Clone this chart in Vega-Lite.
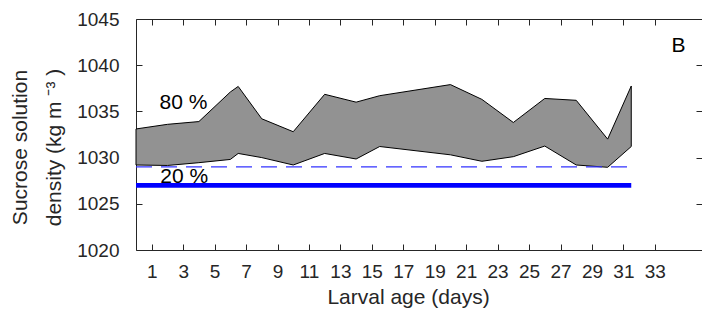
{
  "$schema": "https://vega.github.io/schema/vega-lite/v6.json",
  "width": 566,
  "height": 231,
  "autosize": "none",
  "padding": {"left": 136, "top": 19, "right": 0, "bottom": 61},
  "background": "white",
  "config": {
    "view": {"stroke": null},
    "font": "Liberation Sans",
    "axis": {
      "grid": false,
      "domainColor": "#262626",
      "tickColor": "#262626",
      "labelColor": "#262626",
      "titleColor": "#262626",
      "labelFont": "Liberation Sans",
      "titleFont": "Liberation Sans",
      "labelFontSize": 19,
      "titleFontSize": 21,
      "titleFontWeight": "normal",
      "labelFlush": false,
      "labelOverlap": false,
      "tickSize": -6,
      "domainWidth": 1,
      "tickWidth": 1
    }
  },
  "datasets": {
    "band": [
      {"day": 0, "upper": 1033.1, "lower": 1029.2},
      {"day": 2, "upper": 1033.6, "lower": 1029.15},
      {"day": 4, "upper": 1033.9, "lower": 1029.45},
      {"day": 6, "upper": 1037.1, "lower": 1029.8},
      {"day": 6.5, "upper": 1037.7, "lower": 1030.45},
      {"day": 8, "upper": 1034.2, "lower": 1030.0},
      {"day": 10, "upper": 1032.8, "lower": 1029.2},
      {"day": 12, "upper": 1036.85, "lower": 1030.45},
      {"day": 14, "upper": 1036.0, "lower": 1029.85},
      {"day": 15.5, "upper": 1036.7, "lower": 1031.2},
      {"day": 20, "upper": 1037.9, "lower": 1030.3},
      {"day": 22, "upper": 1036.3, "lower": 1029.6},
      {"day": 24, "upper": 1033.8, "lower": 1030.1},
      {"day": 26, "upper": 1036.4, "lower": 1031.25},
      {"day": 28, "upper": 1036.2, "lower": 1029.2},
      {"day": 30, "upper": 1032.0, "lower": 1028.95},
      {"day": 31.5, "upper": 1037.75, "lower": 1031.2}
    ],
    "dashed": [{"start": 0, "end": 31.5, "density": 1029.0}],
    "solid": [{"start": 0, "end": 31.5, "density": 1027.0}],
    "labels": [
      {"day": 1.5, "density": 1035.9, "text": "80 %"},
      {"day": 1.55, "density": 1027.95, "text": "20 %"},
      {"day": 34.06, "density": 1042.1, "text": "B"}
    ]
  },
  "layer": [
    {
      "data": {"name": "band"},
      "mark": {"type": "area", "fill": "#929292", "stroke": "black", "strokeWidth": 1, "fillOpacity": 1},
      "encoding": {
        "x": {
          "field": "day", "type": "quantitative",
          "scale": {"domain": [0, 36], "nice": false, "zero": false},
          "axis": {
            "orient": "bottom",
            "values": [1, 3, 5, 7, 9, 11, 13, 15, 17, 19, 21, 23, 25, 27, 29, 31, 33],
            "format": "d",
            "title": "Larval age (days)",
            "labelPadding": 18,
            "titleX": 272,
            "titleY": 53,
            "titleAnchor": null,
            "titleAlign": "center",
            "titleBaseline": "alphabetic"
          }
        },
        "y": {
          "field": "upper", "type": "quantitative",
          "scale": {"domain": [1020, 1045], "nice": false, "zero": false},
          "axis": {
            "orient": "left",
            "values": [1020, 1025, 1030, 1035, 1040, 1045],
            "format": "d",
            "title": ["Sucrose solution", "density (kg m  \u207b\u00b3 )"],
            "labelPadding": 23,
            "titleX": -110,
            "titleY": 128,
            "titleAngle": -90,
            "titleAlign": "center",
            "titleBaseline": "alphabetic",
            "titleLineHeight": 34
          }
        },
        "y2": {"field": "lower"}
      }
    },
    {
      "data": {"name": "dashed"},
      "mark": {"type": "rule", "color": "#3333ff", "strokeWidth": 1.3, "strokeDash": [16, 9]},
      "encoding": {
        "x": {
          "field": "start", "type": "quantitative",
          "axis": {
            "orient": "top",
            "values": [1, 3, 5, 7, 9, 11, 13, 15, 17, 19, 21, 23, 25, 27, 29, 31, 33],
            "labels": false,
            "title": null
          }
        },
        "x2": {"field": "end"},
        "y": {
          "field": "density", "type": "quantitative",
          "axis": {
            "orient": "right",
            "values": [1020, 1025, 1030, 1035, 1040, 1045],
            "labels": false,
            "title": null
          }
        }
      }
    },
    {
      "data": {"name": "solid"},
      "mark": {"type": "rule", "color": "#0000ff", "strokeWidth": 4.7},
      "encoding": {
        "x": {"field": "start", "type": "quantitative", "axis": null},
        "x2": {"field": "end"},
        "y": {"field": "density", "type": "quantitative", "axis": null}
      }
    },
    {
      "data": {"name": "labels"},
      "mark": {"type": "text", "align": "left", "baseline": "middle", "fontSize": 21, "color": "black", "font": "Liberation Sans"},
      "encoding": {
        "x": {"field": "day", "type": "quantitative", "axis": null},
        "y": {"field": "density", "type": "quantitative", "axis": null},
        "text": {"field": "text"}
      }
    }
  ],
  "resolve": {"axis": {"x": "independent", "y": "independent"}}
}
